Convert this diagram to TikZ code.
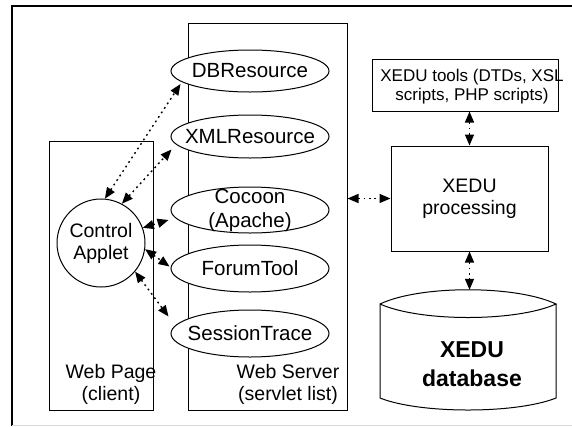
\documentclass[tikz,border=0pt]{standalone}
\usepackage{fontspec}
\setmainfont{Liberation Sans}
\usetikzlibrary{arrows.meta,shapes.geometric,calc}
\begin{document}
\begin{tikzpicture}[x=1pt,y=-1pt,
  box/.style={draw,line width=1pt,inner sep=0pt},
  serv/.style={ellipse,draw,fill=white,line width=1pt,minimum width=158pt,inner sep=0pt},
  lbl/.style={align=center,inner sep=0pt},
  stext/.style={lbl,font=\fontsize{20.5pt}{24pt}\selectfont},
  link/.style={line width=1.4pt,dash pattern=on 1.8pt off 3.6pt,{Triangle[length=11pt,width=9pt]}-{Triangle[length=11pt,width=9pt]}},
  font=\fontsize{19.5pt}{22pt}\selectfont]
\useasboundingbox (0,0) rectangle (572,426);
% outer frame
\draw[line width=1.3pt] (12,426) -- (12,6) -- (572,6);
\draw[black!15,line width=1pt] (12,425) -- (572,425);
% containers
\node[box,minimum width=104pt,minimum height=269pt] (wp) at (101,275.5) {};
\node[box,minimum width=159pt,minimum height=387pt] (ws) at (267.5,216.5) {};
\node[lbl] (wpl) at (111,384) {Web Page\\(client)};
\node[lbl] (wsl) at (288,384) {Web Server\\(servlet list)};
% servlets
\node[serv,minimum height=42pt,label={[stext]center:DBResource}] (db) at (250,71) {};
\node[serv,minimum height=43pt,label={[stext]center:XMLResource}] (xml) at (250,136.5) {};
\node[serv,minimum height=46pt,label={[stext]center:{Cocoon\\(Apache)}}] (cc) at (250,210) {};
\node[serv,minimum height=47pt,label={[stext]center:ForumTool}] (ft) at (250,268.5) {};
\node[serv,minimum height=47pt,label={[stext]center:SessionTrace}] (st) at (250,333.5) {};
% applet
\node[circle,draw,line width=1pt,minimum size=88pt,inner sep=0pt,align=center] (ca) at (101,243) {Control\\Applet};
% right side
\node[box,minimum width=186pt,minimum height=52pt] (tools) at (465,85) {};
\node[lbl,font=\fontsize{17pt}{19.5pt}\selectfont] (toolst) at (472,86.5) {XEDU tools (DTDs, XSL\\scripts, PHP scripts)};
\node[box,minimum width=157pt,minimum height=105pt,align=center] (proc) at (469.5,198.5) {XEDU\\processing};
\node[minimum width=176pt,minimum height=121pt,inner sep=0pt] (dbase) at (468,350.5) {};
\draw[line width=1pt] (380,304) .. controls (420,285) and (516,285) .. (556,304)
  .. controls (516,322) and (420,322) .. (380,304) -- (380,398)
  .. controls (420,414) and (516,414) .. (556,398) -- (556,304);
\node[lbl,font=\bfseries\fontsize{23pt}{29pt}\selectfont] (dbt) at (472,364.5) {XEDU\\database};
% links
\draw[link] (ca.85) -- ($(db.west)+(10,13)$);
\draw[link] (ca.62) -- ($(xml.west)+(1,13)$);
\draw[link] (ca.20) -- ($(cc.west)+(-2,10)$);
\draw[link] (ca.-8) -- ($(ft.west)+(-1,-2)$);
\draw[link] (ca.-40) -- ($(st.west)+(-2,-17)$);
\draw[link] (proc.west -| ws.east) -- (proc.west);
\draw[link] (tools.south -| proc.north) -- (proc.north);
\draw[link] (proc.south) -- (proc.south |- dbase.north);
\end{tikzpicture}
\end{document}
